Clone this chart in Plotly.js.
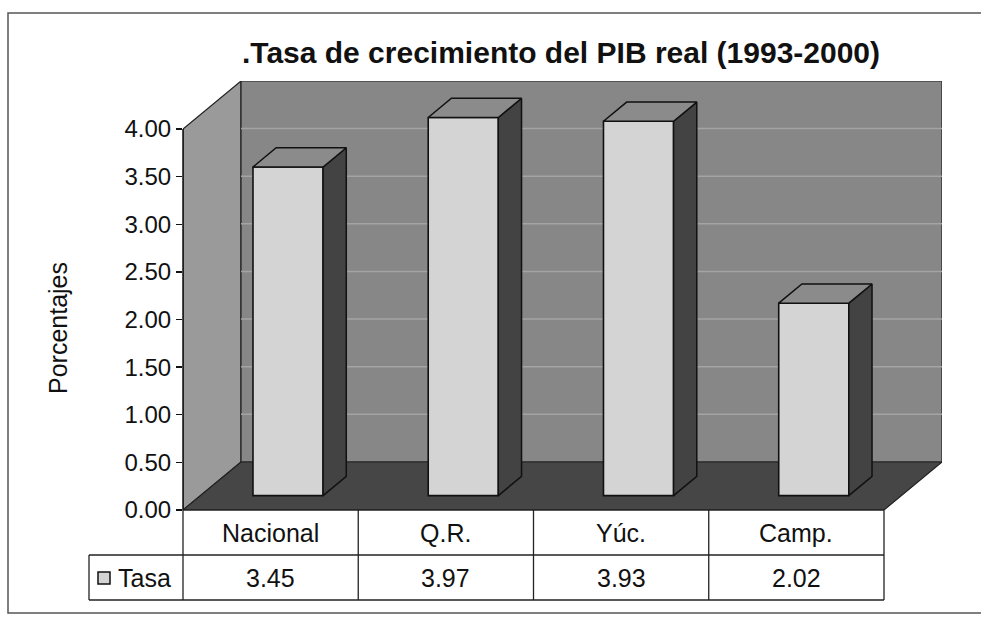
<!DOCTYPE html>
<html>
<head>
<meta charset="utf-8">
<script src="https://cdn.plot.ly/plotly-3.0.1.min.js"></script>
<style>html,body{margin:0;padding:0;background:#fff;overflow:hidden;}#chart{width:981px;height:619px;overflow:hidden;}</style>
</head>
<body>
<div id="chart"></div>
<script>
// ---- data ----
const categories = ['Nacional', 'Q.R.', 'Yúc.', 'Camp.'];
const values = [3.45, 3.97, 3.93, 2.02];
const seriesName = 'Tasa';
const yTickVals = [0, 0.5, 1, 1.5, 2, 2.5, 3, 3.5, 4];
const chartTitle = '.Tasa de crecimiento del PIB real (1993-2000)';
const yTitle = 'Porcentajes';

// ---- geometry (pseudo 3D) ----
const W = 981, H = 619;
const M = {l: 183, r: 39, t: 81, b: 109};
const DX = 0.331, DY = 0.504;     // depth of the box in data units
const F1 = 0.30, F2 = 0.70;       // bar front / back depth fraction
const HW = 0.2;                   // bar half width
const XR = [-0.5, categories.length - 0.5 + DX];
const YR = [0, 4 + DY];
const plotW = W - M.l - M.r, plotH = H - M.t - M.b;
const FONT = 'Liberation Sans, Arial, sans-serif';

const px2paperX = p => (p - M.l) / plotW;
const py2paperY = p => (H - M.b - p) / plotH;
const x2paper = x => (x - XR[0]) / (XR[1] - XR[0]);

const n = categories.length;
const idx = categories.map((c, i) => i);
const ddx = (F2 - F1) * DX, ddy = (F2 - F1) * DY;

// front faces: real bars
const barTrace = {
  type: 'bar',
  x: idx.map(i => i + F1 * DX),
  y: values,
  base: values.map(() => F1 * DY),
  width: 2 * HW,
  name: seriesName,
  marker: {color: '#d4d4d4', line: {color: '#111', width: 1.6}},
  showlegend: false,
  hoverinfo: 'skip'
};

// top faces & side faces computed from values
const topX = [], topY = [], sideX = [], sideY = [];
values.forEach((v, i) => {
  const xl = i - HW + F1 * DX, xr = i + HW + F1 * DX;
  const b = F1 * DY, t = v + F1 * DY;
  topX.push(xl, xr, xr + ddx, xl + ddx, xl, null);
  topY.push(t, t, t + ddy, t + ddy, t, null);
  sideX.push(xr, xr + ddx, xr + ddx, xr, xr, null);
  sideY.push(t, t + ddy, b + ddy, b, t, null);
});
const topTrace = {type: 'scatter', mode: 'lines', x: topX, y: topY, fill: 'toself',
  fillcolor: '#8b8b8b', line: {color: '#111', width: 1.5}, showlegend: false, hoverinfo: 'skip'};
const sideTrace = {type: 'scatter', mode: 'lines', x: sideX, y: sideY, fill: 'toself',
  fillcolor: '#434343', line: {color: '#111', width: 1.5}, showlegend: false, hoverinfo: 'skip'};

// ---- walls / floor (decoration) ----
const x0 = XR[0], x1 = n - 0.5;
const shapes = [];
// outer frame (left, top, bottom edges only; right edge lies outside the picture)
const fl = px2paperX(8), fr = px2paperX(W), ft = py2paperY(13), fb = py2paperY(613);
shapes.push({type: 'path', xref: 'paper', yref: 'paper', layer: 'below',
  path: `M ${fr},${ft} L ${fl},${ft} L ${fl},${fb} L ${fr},${fb}`,
  line: {color: '#555', width: 1.5}, fillcolor: 'rgba(0,0,0,0)'});
// side wall
shapes.push({type: 'path', xref: 'x', yref: 'y', layer: 'below',
  path: `M ${x0},0 L ${x0},4 L ${x0 + DX},${4 + DY} L ${x0 + DX},${DY} Z`,
  fillcolor: '#9a9a9a', line: {color: '#222', width: 1.2}});
// back wall
shapes.push({type: 'rect', xref: 'x', yref: 'y', layer: 'below',
  x0: x0 + DX, x1: x1 + DX, y0: DY, y1: 4 + DY,
  fillcolor: '#878787', line: {color: '#222', width: 1.2}});
// back wall gridlines
yTickVals.filter(v => v > 0 && v < 4).forEach(v => {
  shapes.push({type: 'line', xref: 'x', yref: 'y', layer: 'below',
    x0: x0 + DX, x1: x1 + DX, y0: v + DY, y1: v + DY,
    line: {color: '#a4a4a4', width: 1.5}});
});
// floor
shapes.push({type: 'path', xref: 'x', yref: 'y', layer: 'below',
  path: `M ${x0},0 L ${x1},0 L ${x1 + DX},${DY} L ${x0 + DX},${DY} Z`,
  fillcolor: '#464646', line: {color: '#222', width: 1.2}});
// y axis line
shapes.push({type: 'line', xref: 'paper', yref: 'y', x0: 0, x1: 0, y0: 0, y1: 4,
  line: {color: '#111', width: 1.5}});

// ---- data table ----
const rowTop = 510, rowMid = 555, rowBot = 600, legLeft = 89;
const tl = {color: '#222', width: 1.3};
shapes.push({type: 'line', xref: 'paper', yref: 'paper', x0: x2paper(x0), x1: x2paper(x1),
  y0: py2paperY(rowTop), y1: py2paperY(rowTop), line: tl});
[rowMid, rowBot].forEach(r => shapes.push({type: 'line', xref: 'paper', yref: 'paper',
  x0: px2paperX(legLeft), x1: x2paper(x1), y0: py2paperY(r), y1: py2paperY(r), line: tl}));
for (let k = 0; k <= n; k++) {
  const xb = x2paper(k - 0.5);
  shapes.push({type: 'line', xref: 'paper', yref: 'paper', x0: xb, x1: xb,
    y0: py2paperY(rowTop), y1: py2paperY(rowBot), line: tl});
}
shapes.push({type: 'line', xref: 'paper', yref: 'paper', x0: px2paperX(legLeft), x1: px2paperX(legLeft),
  y0: py2paperY(rowMid), y1: py2paperY(rowBot), line: tl});
// legend key
shapes.push({type: 'rect', xref: 'paper', yref: 'paper',
  x0: px2paperX(98), x1: px2paperX(110), y0: py2paperY(584), y1: py2paperY(572),
  fillcolor: '#d4d4d4', line: {color: '#111', width: 1.5}});

const annotations = [];
categories.forEach((c, i) => {
  annotations.push({xref: 'paper', yref: 'paper', x: x2paper(i), y: py2paperY(533),
    text: c, showarrow: false, xanchor: 'center', yanchor: 'middle',
    font: {family: FONT, size: 25, color: '#111'}});
  annotations.push({xref: 'paper', yref: 'paper', x: x2paper(i), y: py2paperY(578),
    text: values[i].toFixed(2), showarrow: false, xanchor: 'center', yanchor: 'middle',
    font: {family: FONT, size: 25, color: '#111'}});
});
annotations.push({xref: 'paper', yref: 'paper', x: px2paperX(116), y: py2paperY(578),
  text: seriesName, showarrow: false, xanchor: 'left', yanchor: 'middle',
  font: {family: FONT, size: 25, color: '#111'}});
// y axis title
annotations.push({xref: 'paper', yref: 'paper', x: px2paperX(58), y: py2paperY(328),
  text: yTitle, showarrow: false, textangle: -90, xanchor: 'center', yanchor: 'middle',
  font: {family: FONT, size: 25, color: '#111'}});

const layout = {
  width: W, height: H,
  margin: M,
  paper_bgcolor: '#ffffff', plot_bgcolor: 'rgba(0,0,0,0)',
  showlegend: false,
  title: {text: '<b>' + chartTitle + '</b>', font: {family: FONT, size: 30, color: '#111'},
    x: 561 / W, xanchor: 'center', y: 1 - 52 / H, yanchor: 'middle'},
  xaxis: {range: XR, showgrid: false, zeroline: false, showticklabels: false,
    showline: false, ticks: '', fixedrange: true},
  yaxis: {range: YR, tickvals: yTickVals, tickformat: '.2f', ticks: 'outside', ticklen: 6,
    tickcolor: '#111', tickwidth: 1.3, showgrid: false, zeroline: false, showline: false,
    tickfont: {family: FONT, size: 24, color: '#111'},
    fixedrange: true},
  shapes: shapes,
  annotations: annotations,
  bargap: 0
};

Plotly.newPlot('chart', [barTrace, sideTrace, topTrace], layout, {displayModeBar: false, staticPlot: true});
</script>
</body>
</html>
